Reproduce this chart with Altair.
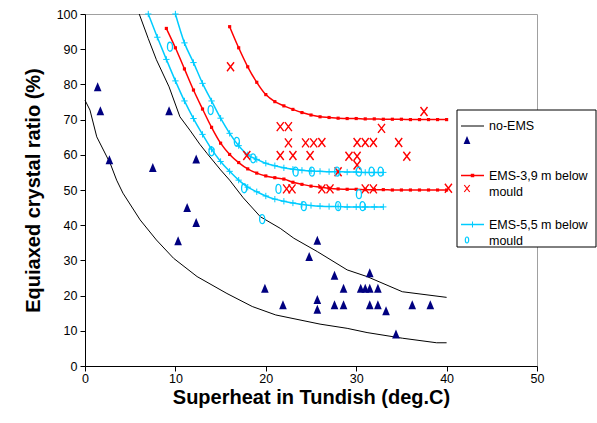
import altair as alt
import pandas as pd

FONT = "Liberation Sans"
RED = "#FF0000"
CYAN = "#00CCFF"
NAVY = "#000080"

# ---- data ----
tri_x = [1.4, 1.7, 2.7, 7.5, 9.3, 10.3, 11.3, 12.3, 12.3, 19.9, 21.9, 24.8, 25.7, 25.7, 25.7,
         27.6, 27.6, 28.6, 28.6, 30.5, 31.0, 31.5, 31.5, 32.4, 31.5, 32.4, 33.3, 34.4, 36.2, 38.2]
tri_y = [79.3, 72.5, 58.6, 56.4, 72.5, 35.6, 45.0, 40.8, 58.8, 22.1, 17.4, 31.1, 35.7, 18.9, 16.1,
         25.8, 17.4, 22.1, 17.4, 22.1, 22.1, 22.1, 26.5, 22.1, 17.4, 17.4, 15.7, 9.1, 17.4, 17.4]

noems_hi_x = [6.0, 7.0, 7.9, 9.3, 10.5, 11.6, 12.7, 13.5, 15.0, 16.0, 17.5, 19.4, 21.6, 23.1,
              25.7, 29.0, 31.2, 35.1, 40.0]
noems_hi_y = [100, 93.0, 87.0, 79.3, 70.8, 67.0, 63.0, 60.4, 55.7, 52.8, 47.8, 42.4, 39.1, 36.3,
              32.5, 27.3, 25.4, 21.1, 19.5]
noems_lo_x = [0.0, 0.55, 1.3, 2.8, 3.5, 4.2, 6.1, 7.9, 9.8, 12.4, 15.7, 18.5, 21.1, 26.0, 29.0,
              31.2, 35.1, 38.9, 40.0]
noems_lo_y = [75.5, 72.7, 65.1, 57.5, 52.8, 49.1, 41.5, 35.8, 30.6, 25.4, 20.6, 16.9, 14.5, 11.9,
              10.7, 9.5, 7.9, 6.6, 6.6]

red_hi_x = [16, 17, 18, 19, 20, 21, 22, 23, 24, 25, 26, 27, 28, 29, 30, 31, 32, 33, 34, 35, 36,
            37, 38, 39, 40]
red_hi_y = [96.4, 90.4, 85.0, 80.6, 77.1, 75.1, 73.9, 72.9, 72.0, 71.3, 70.8, 70.6, 70.4, 70.3,
            70.3, 70.2, 70.2, 70.1, 70.1, 70.1, 70.0, 70.0, 70.0, 70.0, 70.0]
red_lo_x = [9, 10, 11, 12, 13, 14, 15, 16, 17, 18, 19, 20, 21, 22, 23, 24, 25, 26, 27, 28, 29,
            30, 31, 32, 33, 34, 35, 36, 37, 38, 39, 40]
red_lo_y = [95.9, 90.4, 84.4, 78.4, 73.0, 67.8, 63.3, 60.1, 57.8, 56.0, 54.8, 54.0, 53.5, 53.1,
            52.2, 51.6, 51.1, 50.8, 50.5, 50.3, 50.2, 50.2, 50.1, 50.1, 50.1, 50.0, 50.0, 50.0,
            50.0, 50.0, 50.0, 50.0]
cyan_hi_x = [10, 11, 12, 13, 14, 15, 16, 17, 18, 19, 20, 21, 22, 23, 24, 25, 26, 27, 28, 29, 30,
             31, 32, 33]
cyan_hi_y = [100, 91.8, 86.2, 80.3, 75.3, 70.4, 66.1, 62.6, 60.0, 58.7, 57.6, 56.9, 56.3, 55.9,
             55.6, 55.4, 55.3, 55.2, 55.2, 55.1, 55.1, 55.0, 55.0, 55.0]
cyan_lo_x = [7, 8, 9, 10, 11, 12, 13, 14, 15, 16, 17, 18, 19, 20, 21, 22, 23, 24, 25, 26, 27,
             28, 29, 30, 31, 32, 33]
cyan_lo_y = [100, 93.4, 87.1, 81.0, 75.3, 70.3, 65.8, 61.6, 58.1, 55.3, 52.8, 50.8, 49.5, 48.3,
             47.4, 46.8, 46.3, 45.9, 45.6, 45.4, 45.3, 45.3, 45.2, 45.2, 45.2, 45.2, 45.2]

redx_x = [16.1, 17.9, 21.6, 22.5, 22.5, 24.4, 25.3, 26.2, 30.1, 31.0, 31.9, 34.7, 32.8, 37.5,
          21.6, 23.0, 24.9, 29.2, 30.1, 30.1, 35.6, 28.0, 22.3, 22.9, 26.2, 27.1, 31.0, 31.9, 40.2]
redx_y = [85.0, 59.8, 68.0, 68.0, 63.4, 63.4, 63.4, 63.5, 63.5, 63.5, 63.5, 63.5, 67.5, 72.3,
          59.8, 59.8, 59.8, 59.6, 59.6, 57.1, 59.6, 55.2, 50.3, 50.3, 50.3, 50.3, 50.3, 50.3, 50.5]

circ_x = [9.4, 13.9, 14.0, 16.8, 17.6, 18.6, 19.6, 21.4, 23.3, 24.2, 25.1, 27.9, 28.0, 30.3,
          30.3, 30.7, 31.7, 32.7]
circ_y = [90.7, 72.7, 61.0, 63.7, 50.5, 59.0, 41.7, 50.3, 55.2, 45.4, 55.2, 55.2, 45.4, 55.2,
          48.8, 45.4, 55.2, 55.2]

x_ticks = [0, 10, 20, 30, 40, 50]
y_ticks = [0, 10, 20, 30, 40, 50, 60, 70, 80, 90, 100]

# ---- shapes ----
TRI = "M0,-1L-0.85,1L0.85,1Z"
XMARK = "M-0.78,-1L0.78,1M-0.78,1L0.78,-1"
PLUS = "M-1,0L1,0M0,-1L0,1"
ELL = "M0,-1C0.75,-1 0.75,1 0,1C-0.75,1 -0.75,-1 0,-1Z"

xs = alt.Scale(domain=[0, 50], nice=False, zero=False)
ys = alt.Scale(domain=[0, 100], nice=False, zero=False)
xax = alt.Axis(values=x_ticks, title="Superheat in Tundish (deg.C)", grid=False,
               tickSize=5, labelPadding=1, titlePadding=3, labelFlush=False)
yax = alt.Axis(values=y_ticks, title="Equiaxed crystal ratio (%)", grid=False,
               tickSize=5, labelPadding=3, titlePadding=13)


def enc(ch):
    return ch.encode(x=alt.X("x:Q", scale=xs, axis=xax), y=alt.Y("y:Q", scale=ys, axis=yax))


def df(x, y):
    return pd.DataFrame({"x": x, "y": y})


layers = []
layers.append(enc(alt.Chart(df(noems_hi_x, noems_hi_y)).mark_line(color="black", strokeWidth=1)))
layers.append(enc(alt.Chart(df(noems_lo_x, noems_lo_y)).mark_line(color="black", strokeWidth=1)))
for (lx, ly) in [(red_hi_x, red_hi_y), (red_lo_x, red_lo_y)]:
    layers.append(enc(alt.Chart(df(lx, ly)).mark_line(color=RED, strokeWidth=1.5, interpolate="monotone")))
    layers.append(enc(alt.Chart(df(lx, ly)).mark_point(shape="square", filled=True, color=RED, size=10, opacity=1)))
for (lx, ly) in [(cyan_hi_x, cyan_hi_y), (cyan_lo_x, cyan_lo_y)]:
    layers.append(enc(alt.Chart(df(lx, ly)).mark_line(color=CYAN, strokeWidth=1.5, interpolate="monotone")))
    layers.append(enc(alt.Chart(df(lx, ly)).mark_point(shape=PLUS, filled=False, color=CYAN, size=40, strokeWidth=1, opacity=1)))
layers.append(enc(alt.Chart(df(tri_x, tri_y)).mark_point(shape=TRI, filled=True, color=NAVY, size=81, opacity=1)))
layers.append(enc(alt.Chart(df(redx_x, redx_y)).mark_point(shape=XMARK, filled=False, color=RED, size=81, strokeWidth=1.4, opacity=1)))
layers.append(enc(alt.Chart(df(circ_x, circ_y)).mark_point(shape=ELL, filled=False, color=CYAN, size=81, strokeWidth=1.3, opacity=1)))

# ---- manual legend (pixel positions relative to the plot area) ----
one = pd.DataFrame({"a": [0]})
L = []
L.append(alt.Chart(one).mark_rect(fill="white", stroke="black", strokeWidth=1).encode(
    x=alt.value(372), x2=alt.value(511), y=alt.value(96), y2=alt.value(233)))
L.append(alt.Chart(one).mark_rule(color="black", strokeWidth=1).encode(
    x=alt.value(376), x2=alt.value(399), y=alt.value(112)))
L.append(alt.Chart(one).mark_point(shape=TRI, filled=True, color=NAVY, size=64, opacity=1).encode(
    x=alt.value(382), y=alt.value(126)))
L.append(alt.Chart(one).mark_rule(color=RED, strokeWidth=1.5).encode(
    x=alt.value(376), x2=alt.value(399), y=alt.value(161.5)))
L.append(alt.Chart(one).mark_point(shape="square", filled=True, color=RED, size=12, opacity=1).encode(
    x=alt.value(387.5), y=alt.value(161.5)))
L.append(alt.Chart(one).mark_point(shape=XMARK, filled=False, color=RED, size=49, strokeWidth=1.2, opacity=1).encode(
    x=alt.value(382), y=alt.value(174.5)))
L.append(alt.Chart(one).mark_rule(color=CYAN, strokeWidth=1.5).encode(
    x=alt.value(376), x2=alt.value(399), y=alt.value(210.5)))
L.append(alt.Chart(one).mark_point(shape=PLUS, filled=False, color=CYAN, size=36, strokeWidth=1, opacity=1).encode(
    x=alt.value(387.5), y=alt.value(210.5)))
L.append(alt.Chart(one).mark_point(shape=ELL, filled=False, color=CYAN, size=36, strokeWidth=1.2, opacity=1).encode(
    x=alt.value(382), y=alt.value(226)))

legend_texts = [("no-EMS", 112), ("EMS-3,9 m below", 161.5), ("mould", 177.5),
                ("EMS-5,5 m below", 210.5), ("mould", 226.5)]
for t, yy in legend_texts:
    L.append(alt.Chart(one).mark_text(font=FONT, fontSize=12.5, color="black", align="left",
                                      baseline="middle").encode(
        x=alt.value(404), y=alt.value(yy), text=alt.value(t)))

chart = alt.layer(*layers, *L).properties(
    width=452, height=352,
    padding={"left": 85, "top": 14, "right": 60, "bottom": 57},
    autosize=alt.AutoSizeParams(type="none"),
).configure(background="white").configure_view(stroke="#A0A0A0", strokeWidth=1).configure_axis(
    domainColor="black", tickColor="black", labelColor="black", titleColor="black",
    labelFont=FONT, labelFontSize=12.5, titleFont=FONT, titleFontSize=20,
    titleFontWeight="bold", domainWidth=1, tickWidth=1,
)

chart.save("out.html", embed_options={"renderer": "svg", "actions": False})
